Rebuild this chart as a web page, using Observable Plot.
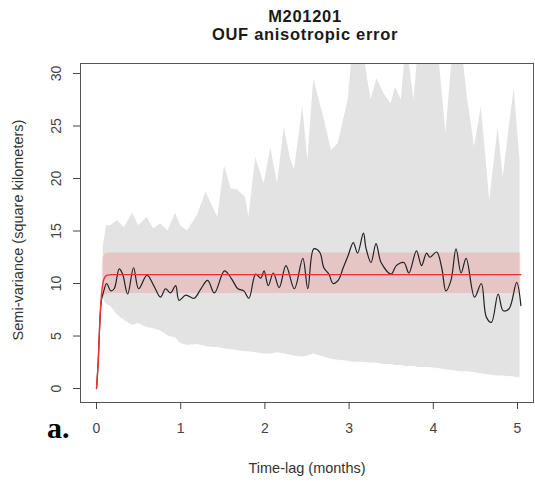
<!DOCTYPE html>
<html><head><meta charset="utf-8">
<script src="https://cdn.jsdelivr.net/npm/d3@7"></script>
<script src="https://cdn.jsdelivr.net/npm/@observablehq/plot@0.6"></script>
<style>
body{margin:0;background:#fff;font-family:"Liberation Sans",Arial,sans-serif;}
#wrap{position:relative;width:535px;height:485px;overflow:hidden;}
.t{position:absolute;left:305px;transform:translateX(-50%);white-space:nowrap;font-weight:bold;font-size:16.5px;line-height:17px;letter-spacing:0.7px;color:#1a1a1a;}
#chart{position:absolute;left:0;top:50px;}
.ax{position:absolute;white-space:nowrap;font-size:14.5px;line-height:16px;color:#333;}
#lab{position:absolute;left:47px;top:413px;font-family:"Liberation Serif","DejaVu Serif",serif;font-weight:bold;font-size:30px;line-height:30px;color:#000;}
</style></head>
<body>
<div id="wrap">
  <div class="t" style="top:8px">M201201</div>
  <div class="t" style="top:26px">OUF anisotropic error</div>
  <div id="chart"></div>
  <div class="ax" style="left:307px;top:468px;transform:translate(-50%,-50%)">Time-lag (months)</div>
  <div class="ax" style="left:18px;top:230px;transform:translate(-50%,-50%) rotate(-90deg)">Semi-variance (square kilometers)</div>
  <div id="lab">a.</div>
</div>
<script>
// Tick labels
const xTicks = [0, 1, 2, 3, 4, 5];
const yTicks = [0, 5, 10, 15, 20, 25, 30];

// Confidence envelope of the empirical variogram (grey)
const envT  = [0.08,0.12,0.17,0.25,0.33,0.43,0.5,0.6,0.68,0.76,0.85,0.94,1.0,1.08,1.2,1.3,1.37,1.44,1.52,1.6,1.68,1.77,1.81,1.89,1.99,2.07,2.15,2.23,2.3,2.35,2.45,2.51,2.58,2.7,2.79,2.87,2.99,3.05,3.12,3.18,3.26,3.33,3.42,3.5,3.55,3.62,3.68,3.77,3.83,3.95,4.05,4.15,4.24,4.32,4.4,4.49,4.57,4.67,4.77,4.83,4.96,5.03];
const envHi = [13.5,15.5,15.5,16.0,15.3,16.7,15.5,16.3,15.2,15.7,15.0,16.7,15.5,15.0,16.5,18.7,17.5,16.3,21.2,19.0,18.9,18.2,16.3,22.0,19.5,22.9,19.5,24.9,22.0,20.8,26.8,21.7,29.5,25.8,22.7,23.3,27.5,33,34,31.5,27.5,29.5,28.0,27.1,28.7,27.5,33,27.5,33,34,33,24.3,33,34,28,23.0,26.8,17.9,24.9,20.1,28.6,21.7];
const envLo = [8.5,8.0,7.8,7.0,6.5,6.0,6.2,5.8,5.7,5.5,5.0,4.8,4.3,4.1,4.2,4.0,3.9,3.9,3.8,3.7,3.6,3.5,3.5,3.4,3.3,3.3,3.4,3.3,3.2,3.1,3.0,3.1,3.3,3.0,2.8,2.7,2.6,2.5,2.5,2.5,2.4,2.4,2.3,2.3,2.2,2.2,2.1,2.1,2.0,2.0,1.9,1.8,1.7,1.6,1.6,1.5,1.4,1.3,1.2,1.2,1.1,1.0];

// Empirical semi-variance (black)
const empT = [0,0.02,0.04,0.06,0.08,0.12,0.17,0.21,0.27,0.31,0.37,0.44,0.5,0.6,0.68,0.76,0.82,0.88,0.94,0.98,1.06,1.16,1.24,1.32,1.4,1.52,1.6,1.68,1.75,1.81,1.89,1.95,1.99,2.04,2.1,2.17,2.25,2.35,2.45,2.51,2.58,2.65,2.7,2.76,2.81,2.87,2.93,2.99,3.05,3.1,3.17,3.2,3.26,3.32,3.38,3.5,3.56,3.65,3.71,3.8,3.86,3.92,3.96,4.04,4.1,4.15,4.21,4.27,4.33,4.39,4.49,4.57,4.63,4.69,4.77,4.83,4.9,4.99,5.04];
const empV = [0,2.5,6.3,8.5,9.1,10.0,9.3,9.5,11.4,10.9,9.0,11.5,9.5,10.8,9.8,8.7,9.5,9.1,9.8,8.4,8.9,8.6,9.5,10.3,9.1,11.2,10.5,9.5,9.3,8.6,10.9,10.5,11.2,9.8,11.0,9.6,11.7,9.5,12.4,9.5,13.3,13.0,11.5,10.9,10.0,10.3,11.5,12.7,13.9,12.9,14.8,13.4,12.0,13.8,12.0,10.9,11.7,12.0,11.0,13.1,11.7,12.9,12.5,13.0,11.5,9.3,10.3,13.3,11.0,12.4,8.7,10.0,6.8,6.3,9.0,7.4,7.6,10.1,7.9];

// Fitted OUF model (red) and its confidence band
const modT  = [0,0.02,0.04,0.06,0.08,0.1,0.13,0.18,5.04];
const modV  = [0,2.5,6.5,9.0,10.2,10.6,10.8,10.85,10.85];
const bandT  = [0.07,0.08,0.1,0.13,0.18,5.04];
const bandLo = [8.2,8.6,8.9,9.0,9.05,9.05];
const bandHi = [11.8,12.5,12.8,12.9,12.9,12.9];

const env = envT.map((t, i) => ({t, lo: envLo[i], hi: envHi[i]}));
const emp = empT.map((t, i) => ({t, v: empV[i]}));
const mod = modT.map((t, i) => ({t, v: modV[i]}));
const band = bandT.map((t, i) => ({t, lo: bandLo[i], hi: bandHi[i]}));

const chart = Plot.plot({
  width: 535, height: 435,
  marginTop: 13, marginBottom: 83, marginLeft: 80, marginRight: 2,
  style: {fontFamily: "Liberation Sans, Arial, sans-serif", background: "white"},
  x: {domain: [-0.19, 5.19]},
  y: {domain: [-1.33, 30.95]},
  marks: [
    Plot.areaY(env, {x: "t", y1: "lo", y2: "hi", fill: "#e3e3e3", clip: true}),
    Plot.areaY(band, {x: "t", y1: "lo", y2: "hi", fill: "red", fillOpacity: 0.13, clip: true}),
    Plot.line(emp, {x: "t", y: "v", stroke: "#222", strokeWidth: 1.2, curve: "catmull-rom", clip: true}),
    Plot.line(mod, {x: "t", y: "v", stroke: "#f03030", strokeWidth: 1.4, curve: "monotone-x", clip: true}),
    Plot.frame({stroke: "#555"}),
    Plot.axisX({ticks: xTicks, tickFormat: d => String(d), tickSize: 7, tickPadding: 14, fontSize: 14, color: "#444", label: null}),
    Plot.axisY({ticks: yTicks, tickFormat: d => String(d), tickSize: 7, tickPadding: 13, tickRotate: -90, fontSize: 14, color: "#444", label: null})
  ]
});
document.getElementById("chart").appendChild(chart);
</script>
</body></html>
